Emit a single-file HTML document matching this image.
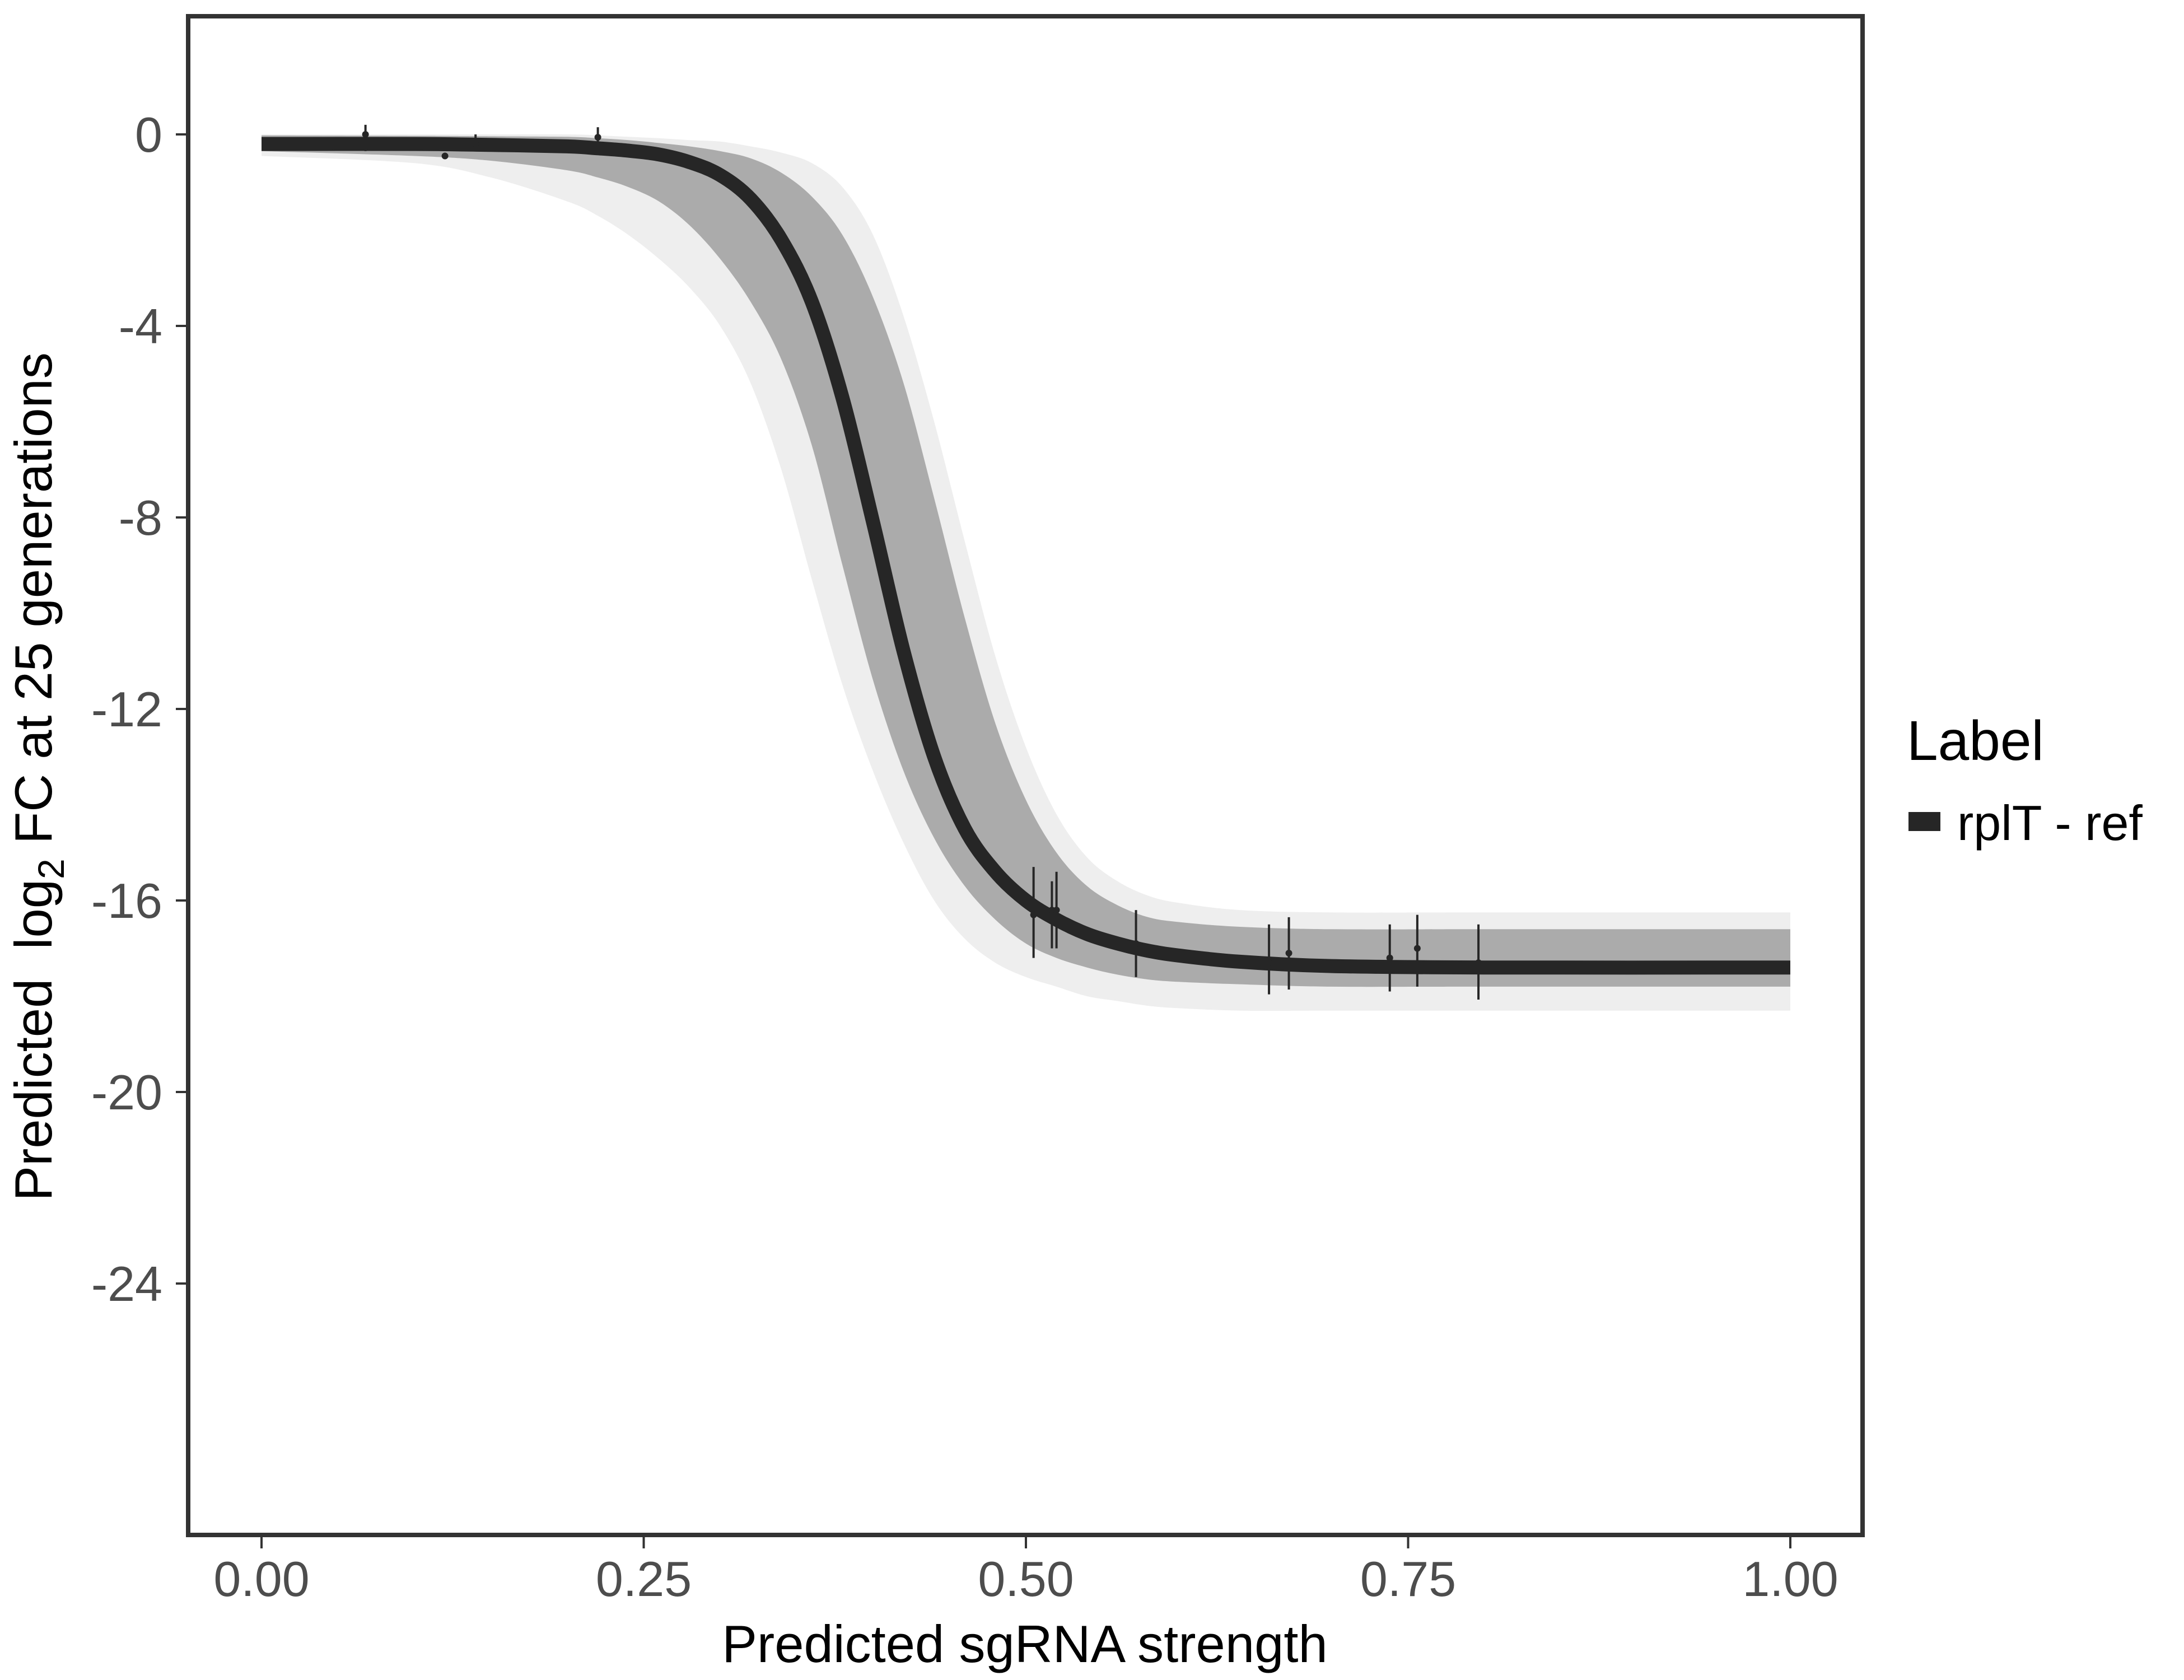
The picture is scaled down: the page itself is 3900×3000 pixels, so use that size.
<!DOCTYPE html>
<html><head><meta charset="utf-8"><style>
html,body{margin:0;padding:0;background:#fff;}
svg{display:block;font-family:"Liberation Sans",sans-serif;}
</style></head><body>
<svg id="chart" width="3900" height="3000" viewBox="0 0 3900 3000" xmlns="http://www.w3.org/2000/svg">
<rect width="3900" height="3000" fill="#fff"/>
<g id="bands"></g>
<g id="main"></g>
<g id="errs"></g>
<rect x="336" y="29" width="2990" height="2712" fill="none" stroke="#333" stroke-width="8"/>
<g id="axes"></g>
<text x="1830" y="2968" font-size="94" text-anchor="middle" fill="#000">Predicted sgRNA strength</text>
<text transform="translate(92,1387) rotate(-90)" font-size="94" text-anchor="middle" fill="#000" xml:space="preserve">Predicted  log<tspan font-size="66" dy="22">2</tspan><tspan dy="-22"> FC at 25 generations</tspan></text>
<text x="3405" y="1357" font-size="100" fill="#000">Label</text>
<rect x="3408" y="1450" width="57" height="34" fill="#262626"/>
<text x="3495" y="1500" font-size="88" fill="#000">rplT - ref</text>
</svg>
<script>
// shared x grid for the curve and envelopes
const gridX = [0,0.1,0.15,0.2,0.22,0.24,0.26,0.28,0.30,0.32,0.34,0.36,0.38,0.40,0.42,0.44,0.46,0.48,0.50,0.52,0.54,0.56,0.58,0.60,0.64,0.70,0.8,1.0];
// main fitted curve
const curveY = [-0.2,-0.2,-0.22,-0.25,-0.29,-0.34,-0.42,-0.58,-0.85,-1.35,-2.2,-3.5,-5.5,-8.1,-10.8,-13.0,-14.5,-15.4,-16.0,-16.4,-16.7,-16.9,-17.05,-17.15,-17.28,-17.37,-17.4,-17.4];
// posterior spread envelopes
const denseUpY  = [-0.02,-0.03,-0.04,-0.05,-0.08,-0.12,-0.18,-0.25,-0.35,-0.5,-0.8,-1.3,-2.1,-3.4,-5.2,-7.6,-10.1,-12.3,-13.9,-15.0,-15.7,-16.1,-16.35,-16.45,-16.55,-16.6,-16.6,-16.6];
const denseLoY  = [-0.35,-0.45,-0.55,-0.75,-0.9,-1.1,-1.4,-1.9,-2.6,-3.5,-4.7,-6.5,-9.0,-11.4,-13.3,-14.7,-15.7,-16.4,-16.9,-17.2,-17.4,-17.55,-17.65,-17.7,-17.75,-17.8,-17.8,-17.8];
const lightUpY  = [0.0,0.0,0.0,0.0,-0.02,-0.05,-0.08,-0.12,-0.15,-0.25,-0.38,-0.6,-1.1,-2.1,-3.8,-6.0,-8.5,-10.9,-12.8,-14.2,-15.1,-15.6,-15.9,-16.05,-16.2,-16.25,-16.25,-16.25];
const lightLoY  = [-0.45,-0.6,-0.9,-1.4,-1.7,-2.1,-2.6,-3.2,-4.0,-5.2,-7.0,-9.3,-11.5,-13.3,-14.8,-16.0,-16.8,-17.3,-17.6,-17.8,-18.0,-18.1,-18.2,-18.25,-18.3,-18.3,-18.3,-18.3];
// observed points with error bars
const ptX  = [0.068,0.12,0.14,0.22,0.505,0.517,0.52,0.572,0.659,0.672,0.738,0.756,0.796];
const ptY  = [0.0,-0.45,-0.2,-0.06,-16.3,-16.2,-16.2,-16.9,-17.3,-17.1,-17.2,-17.0,-17.3];
const ptLo = [-0.35,-0.5,-0.35,-0.3,-17.2,-17.0,-17.0,-17.6,-17.96,-17.86,-17.9,-17.8,-18.07];
const ptHi = [0.2,-0.4,0.0,0.15,-15.3,-15.6,-15.4,-16.2,-16.5,-16.35,-16.5,-16.3,-16.5];
const xTicks = [0,0.25,0.5,0.75,1.0];
const xTickLabels = ['0.00','0.25','0.50','0.75','1.00'];
const yTicks = [0,-4,-8,-12,-16,-20,-24];
const yTickLabels = ['0','-4','-8','-12','-16','-20','-24'];

const NS='http://www.w3.org/2000/svg';
const sx = v => 467 + v*2730;
const sy = v => 240 - v*85.5;
function mk(tag, attrs, parent){const e=document.createElementNS(NS,tag);for(const k in attrs)e.setAttribute(k,attrs[k]);parent.appendChild(e);return e;}
function smooth(pts, start){
  let d=(start?'M':'L')+pts[0][0].toFixed(1)+','+pts[0][1].toFixed(1);
  for(let i=0;i<pts.length-1;i++){
    const p0=pts[Math.max(0,i-1)],p1=pts[i],p2=pts[i+1],p3=pts[Math.min(pts.length-1,i+2)];
    const c1=[p1[0]+(p2[0]-p0[0])/6,p1[1]+(p2[1]-p0[1])/6];
    const c2=[p2[0]-(p3[0]-p1[0])/6,p2[1]-(p3[1]-p1[1])/6];
    d+=' C'+c1[0].toFixed(1)+','+c1[1].toFixed(1)+' '+c2[0].toFixed(1)+','+c2[1].toFixed(1)+' '+p2[0].toFixed(1)+','+p2[1].toFixed(1);
  }
  return d;
}
const toPts=(xs,ys)=>xs.map((x,i)=>[sx(x),sy(ys[i])]);

const bands=document.getElementById('bands');
function band(uy,ly,color,name){
  const up=toPts(gridX,uy), lo=toPts(gridX,ly).reverse();
  const d=smooth(up,true)+' '+smooth(lo,false)+' Z';
  const p=mk('path',{d:d,fill:color},bands);
  
  
}
band(lightUpY,lightLoY,'#eeeeee','posterior-band-outer');
band(denseUpY,denseLoY,'#ababab','posterior-band-inner');

const main=document.getElementById('main');
const ml=mk('path',{d:smooth(toPts(gridX,curveY),true),fill:'none',stroke:'#262626','stroke-width':25,'stroke-linejoin':'round'},main);



const errs=document.getElementById('errs');
ptX.forEach((x,i)=>{
  const l=mk('line',{x1:sx(x),x2:sx(x),y1:sy(ptHi[i]),y2:sy(ptLo[i]),stroke:'#262626','stroke-width':4},errs);
  
  
  const c=mk('circle',{cx:sx(x),cy:sy(ptY[i]),r:6,fill:'#262626'},errs);
  
  
});

const axes=document.getElementById('axes');
xTicks.forEach((v,i)=>{
  const t=mk('line',{x1:sx(v),x2:sx(v),y1:2745,y2:2765,stroke:'#333','stroke-width':4},axes);
  
  
  const tx=mk('text',{x:sx(v),y:2850,'font-size':88,'text-anchor':'middle',fill:'#4d4d4d'},axes);
  tx.textContent=xTickLabels[i];
  
  
});
yTicks.forEach((v,i)=>{
  const t=mk('line',{x1:314,x2:332,y1:sy(v),y2:sy(v),stroke:'#333','stroke-width':4},axes);
  
  
  const tx=mk('text',{x:290,y:sy(v)+31,'font-size':88,'text-anchor':'end',fill:'#4d4d4d'},axes);
  tx.textContent=yTickLabels[i];
  
  
});
</script>
</body></html>
